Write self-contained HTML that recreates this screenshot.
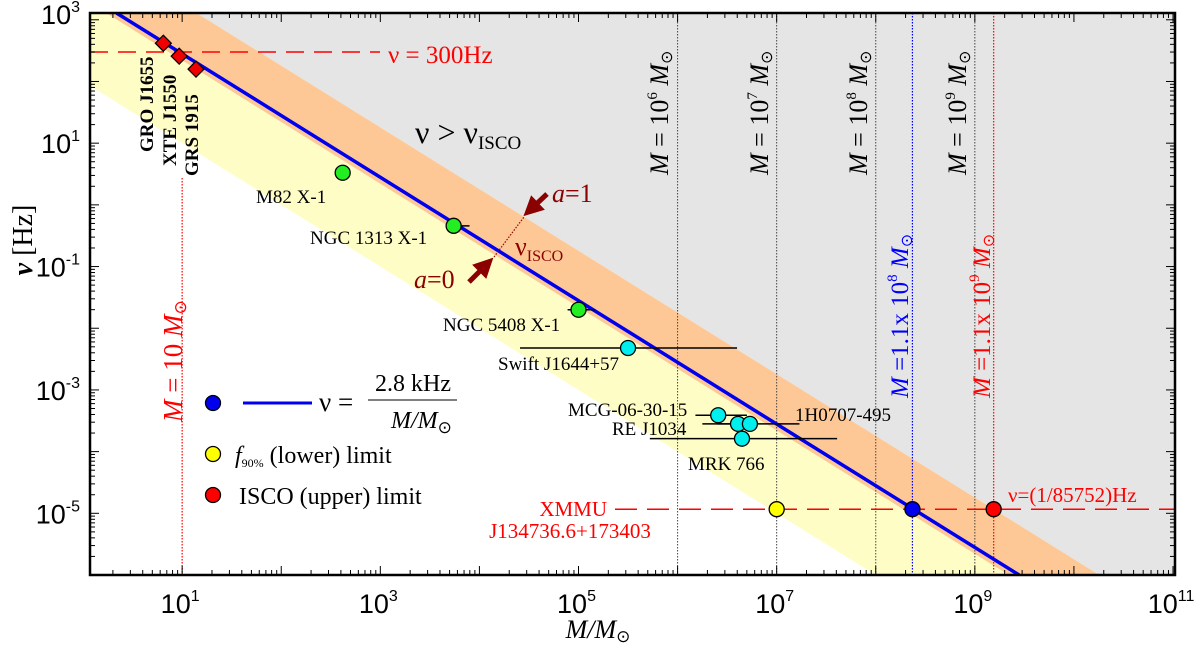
<!DOCTYPE html>
<html><head><meta charset="utf-8">
<style>
html,body{margin:0;padding:0;background:#fff;overflow:hidden;width:1200px;height:649px;}
svg{display:block;}
.ser{font-family:"Liberation Serif",serif;}
.san{font-family:"Liberation Sans",sans-serif;}
</style></head>
<body>
<svg id="chart" width="1200" height="649" viewBox="0 0 1200 649" xmlns="http://www.w3.org/2000/svg" style="overflow:hidden">
<defs>
<clipPath id="pc"><rect x="90" y="13" width="1085" height="562"/></clipPath>
<marker id="ah" markerWidth="4" markerHeight="4" refX="2.2" refY="2" orient="auto" markerUnits="strokeWidth"><path d="M0,0 L4,2 L0,4 Z" fill="#8b0000"/></marker>
</defs>
<g id="bands" clip-path="url(#pc)"></g>
<g id="vlines" clip-path="url(#pc)"></g>
<g id="marks" clip-path="url(#pc)"></g>
<g id="axes"></g>
<g id="labels"></g>
</svg>
<script>
// ---- data ----
const xTickExps = [1, 3, 5, 7, 9, 11];
const yTickExps = [3, 1, -1, -3, -5];
const lineConst = 2800;          // nu = 2.8 kHz / M
const yellowLowConst = 100;      // lower edge of yellow band
const orangeLowConst = 2200;     // a=0 ISCO
const orangeHighConst = 18000;   // a=1 ISCO
const diamondNames = ["GRO J1655", "XTE J1550", "GRS 1915"];
const diamondLogM = [0.81, 0.97, 1.14];
const diamondLogNu = [2.62, 2.41, 2.20];
const greenNames = ["M82 X-1", "NGC 1313 X-1", "NGC 5408 X-1"];
const greenLogM = [2.62, 3.74, 5.0];
const greenLogNu = [0.52, -0.34, -1.70];
const greenErrLo = [2.62, 3.68, 4.89];
const greenErrHi = [2.62, 3.90, 5.17];
const cyanNames = ["Swift J1644+57", "MCG-06-30-15", "RE J1034", "1H0707-495", "MRK 766"];
const cyanLogM = [5.50, 6.41, 6.61, 6.73, 6.65];
const cyanLogNu = [-2.32, -3.41, -3.55, -3.55, -3.79];
const cyanErrLo = [4.41, 6.18, 6.25, 6.40, 5.72];
const cyanErrHi = [6.60, 6.70, 6.81, 7.23, 7.61];
const xmmuLogNu = Math.log10(1/85752);
const xmmuLogM = [7.0, 8.37, 9.19];   // yellow, blue, red
const massLineExps = [6, 7, 8, 9];
const blueLineLogM = 8.37;
const redLineLogM = 9.19;
const tenSolarLogM = 1.0;
const nu300LogNu = Math.log10(300);

// ---- scales ----
const X0=90, X1=1175, Y0=13, Y1=575;
const lxMin=0.07, lxMax=11.02, lyMax=3.11, lyMin=-6.0;
function sx(l){return X0+(l-lxMin)/(lxMax-lxMin)*(X1-X0);}
function sy(l){return Y0+(lyMax-l)/(lyMax-lyMin)*(Y1-Y0);}
const NS="http://www.w3.org/2000/svg";
function mk(tag,attrs,parent,text){const e=document.createElementNS(NS,tag);for(const k in attrs)e.setAttribute(k,attrs[k]);if(text!==undefined)e.textContent=text;parent.appendChild(e);return e;}
const bands=document.getElementById('bands'),vl=document.getElementById('vlines'),marks=document.getElementById('marks'),axes=document.getElementById('axes');

// clip polygon (log space) to plot rectangle
function clipPoly(pts){
  const edges=[[p=>p[0]>=lxMin,(a,b)=>{const t=(lxMin-a[0])/(b[0]-a[0]);return [lxMin,a[1]+t*(b[1]-a[1])];}],
               [p=>p[0]<=lxMax,(a,b)=>{const t=(lxMax-a[0])/(b[0]-a[0]);return [lxMax,a[1]+t*(b[1]-a[1])];}],
               [p=>p[1]>=lyMin,(a,b)=>{const t=(lyMin-a[1])/(b[1]-a[1]);return [a[0]+t*(b[0]-a[0]),lyMin];}],
               [p=>p[1]<=lyMax,(a,b)=>{const t=(lyMax-a[1])/(b[1]-a[1]);return [a[0]+t*(b[0]-a[0]),lyMax];}]];
  let out=pts;
  edges.forEach(([ins,isect])=>{const inp=out;out=[];for(let i=0;i<inp.length;i++){const c=inp[i],p=inp[(i+inp.length-1)%inp.length];
    if(ins(c)){if(!ins(p))out.push(isect(p,c));out.push(c);}else if(ins(p))out.push(isect(p,c));}});
  return out;
}
function bandPts(c){const a=Math.log10(c);return [[lxMin-1,a-lxMin+1],[lxMax+1,a-lxMax-1]];}
function poly(cLo,cHi,fill,name){
  const lo=bandPts(cLo);let pts;
  if(cHi===null){pts=[lo[0],lo[1],[lxMax+1,lyMax+5],[lxMin-1,lyMax+5]];}
  else{const hi=bandPts(cHi);pts=[lo[0],lo[1],hi[1],hi[0]];}
  pts=clipPoly(pts);
  const p=mk('polygon',{points:pts.map(q=>sx(q[0]).toFixed(2)+','+sy(q[1]).toFixed(2)).join(' '),fill:fill},bands);
  
  
}
poly(orangeHighConst,null,'#e5e5e5','forbidden-region');
poly(yellowLowConst,orangeLowConst,'#fffdc6','f90-band');
poly(orangeLowConst,orangeHighConst,'#fdc896','isco-band');

massLineExps.forEach(e=>{const l=mk('line',{x1:sx(e),x2:sx(e),y1:Y0,y2:Y1,stroke:'#444','stroke-width':1,'stroke-dasharray':'1.5,1.5'},vl);

});
let b=mk('line',{x1:sx(blueLineLogM),x2:sx(blueLineLogM),y1:Y0,y2:Y1,stroke:'#0000ff','stroke-width':1.2,'stroke-dasharray':'1.5,1.5'},vl);


let r=mk('line',{x1:sx(redLineLogM),x2:sx(redLineLogM),y1:Y0,y2:Y1,stroke:'#ff0000','stroke-width':1.2,'stroke-dasharray':'1.5,1.5'},vl);


let t=mk('line',{x1:sx(tenSolarLogM),x2:sx(tenSolarLogM),y1:178,y2:Y1,stroke:'#ff0000','stroke-width':1.2,'stroke-dasharray':'1.5,1.5'},vl);


let h=mk('line',{x1:X0,x2:380,y1:sy(nu300LogNu),y2:sy(nu300LogNu),stroke:'#ff0000','stroke-width':1.5,'stroke-dasharray':'18,10'},vl);


let xd=mk('line',{x1:615,x2:X1,y1:sy(xmmuLogNu),y2:sy(xmmuLogNu),stroke:'#ff0000','stroke-width':1.5,'stroke-dasharray':'22,10'},vl);



const lc=Math.log10(lineConst);
const lStartX=Math.max(lxMin,lc-lyMax), lEndX=Math.min(lxMax,lc-lyMin);
let ml=mk('line',{x1:sx(lStartX),y1:sy(lc-lStartX),x2:sx(lEndX),y2:sy(lc-lEndX),stroke:'#0000ee','stroke-width':3.5},marks);



let isl=mk('line',{x1:494,y1:257,x2:524,y2:217,stroke:'#990000','stroke-width':1.2,'stroke-dasharray':'1.5,1.5'},marks);



function errbar(lm,ln,lo,hi){const y=sy(ln);const e=mk('line',{x1:sx(lo),x2:sx(hi),y1:y,y2:y,stroke:'#000','stroke-width':1.5},marks);

}
function circ(lm,ln,fill,name){const c=mk('circle',{cx:sx(lm),cy:sy(ln),r:7.5,fill:fill,stroke:'#000','stroke-width':1.3},marks);

}
greenLogM.forEach((m,i)=>errbar(m,greenLogNu[i],greenErrLo[i],greenErrHi[i]));
cyanLogM.forEach((m,i)=>errbar(m,cyanLogNu[i],cyanErrLo[i],cyanErrHi[i]));
greenLogM.forEach((m,i)=>circ(m,greenLogNu[i],'#22ee22','point-'+greenNames[i].toLowerCase().replace(/ /g,'-')));
cyanLogM.forEach((m,i)=>circ(m,cyanLogNu[i],'#00eeee','point-'+cyanNames[i].toLowerCase().replace(/[ +]/g,'-')));
circ(xmmuLogM[0],xmmuLogNu,'#ffff00','xmmu-lower-limit');
circ(xmmuLogM[1],xmmuLogNu,'#0000ee','xmmu-estimate');
circ(xmmuLogM[2],xmmuLogNu,'#ff0000','xmmu-upper-limit');
diamondLogM.forEach((m,i)=>{const x=sx(m),y=sy(diamondLogNu[i]),s=8;
const d=mk('polygon',{points:`${x},${y-s} ${x+s},${y} ${x},${y+s} ${x-s},${y}`,fill:'#ee0000',stroke:'#000','stroke-width':1.2},marks);

});

let fr=mk('rect',{x:X0,y:Y0,width:X1-X0,height:Y1-Y0,fill:'none',stroke:'#000','stroke-width':2.5},axes);


for(let d=0;d<=11;d++){for(let k=1;k<10;k++){const l=d+Math.log10(k);if(l<lxMin||l>lxMax)continue;const x=sx(l),len=k==1?9:5;
mk('line',{x1:x,x2:x,y1:Y1,y2:Y1-len,stroke:'#000','stroke-width':1},axes);mk('line',{x1:x,x2:x,y1:Y0,y2:Y0+len,stroke:'#000','stroke-width':1},axes);}}
for(let d=-6;d<=3;d++){for(let k=1;k<10;k++){const l=d+Math.log10(k);if(l<lyMin||l>lyMax)continue;const y=sy(l),len=k==1?9:5;
mk('line',{x1:X0,x2:X0+len,y1:y,y2:y,stroke:'#000','stroke-width':1},axes);mk('line',{x1:X1,x2:X1-len,y1:y,y2:y,stroke:'#000','stroke-width':1},axes);}}
xTickExps.forEach(e=>{const tx=mk('text',{x:sx(e)-2,y:613,'text-anchor':'middle','font-size':27,class:'san'},axes);


tx.innerHTML=`10<tspan font-size="16" dy="-12">${e}</tspan>`;});
yTickExps.forEach(e=>{const yy=e==3?24:sy(e)+10;const tx=mk('text',{x:80,y:yy,'text-anchor':'end','font-size':27,class:'san'},axes);


tx.innerHTML=`10<tspan font-size="16" dy="-12">${e}</tspan>`;});

const L=document.getElementById('labels');
L.innerHTML=`
<text x="598" y="638" text-anchor="middle" font-size="26" class="ser" font-style="italic">M/M<tspan font-style="normal" font-size="17" dy="4">⊙</tspan></text>
<text transform="translate(32,240) rotate(-90)" text-anchor="middle" font-size="28" class="ser"><tspan font-style="italic" font-weight="bold">ν</tspan> [Hz]</text>
<text x="388" y="63" font-size="25" class="ser" fill="#ff0000">ν = 300Hz</text>
<text x="415" y="143" font-size="32" class="ser">ν &gt; ν<tspan font-size="19" dy="6">ISCO</tspan></text>
<text transform="translate(153,152) rotate(-90)" font-size="19" font-weight="bold" class="ser">GRO J1655</text>
<text transform="translate(176,166) rotate(-90)" font-size="19" font-weight="bold" class="ser">XTE J1550</text>
<text transform="translate(198,176) rotate(-90)" font-size="19" font-weight="bold" class="ser">GRS 1915</text>
<text x="256" y="203" font-size="19" class="ser">M82 X-1</text>
<text x="310" y="244" font-size="19" class="ser">NGC 1313 X-1</text>
<text x="443" y="331" font-size="19" class="ser">NGC 5408 X-1</text>
<text x="498" y="370" font-size="19" class="ser">Swift J1644+57</text>
<text x="568" y="416" font-size="19" class="ser">MCG-06-30-15</text>
<text x="612" y="435" font-size="19" class="ser">RE J1034</text>
<text x="795" y="421" font-size="19" class="ser">1H0707-495</text>
<text x="688" y="470" font-size="19" class="ser">MRK 766</text>
<text x="607" y="516" text-anchor="end" font-size="21" class="ser" fill="#ff0000">XMMU</text>
<text x="570" y="538" text-anchor="middle" font-size="21" class="ser" fill="#ff0000">J134736.6+173403</text>
<text x="1008" y="502" font-size="21" class="ser" fill="#ff0000">ν=(1/85752)Hz</text>
<text x="552" y="202" font-size="26" class="ser" fill="#8b0000"><tspan font-style="italic">a</tspan>=1</text>
<text x="414" y="288" font-size="26" class="ser" fill="#8b0000"><tspan font-style="italic">a</tspan>=0</text>
<text x="515" y="255" font-size="26" class="ser" fill="#8b0000">ν<tspan font-size="16" dy="6">ISCO</tspan></text>
<line x1="547" y1="194" x2="530" y2="210" stroke="#8b0000" stroke-width="5" marker-end="url(#ah)"/>
<line x1="469" y1="282" x2="487" y2="264" stroke="#8b0000" stroke-width="5" marker-end="url(#ah)"/>
<text transform="translate(668,175) rotate(-90)" font-size="26" class="ser"><tspan font-style="italic">M</tspan> = 10<tspan font-size="15" dy="-11">6</tspan><tspan dy="11" font-style="italic"> M</tspan><tspan font-size="16" dy="4">⊙</tspan></text>
<text transform="translate(768,175) rotate(-90)" font-size="26" class="ser"><tspan font-style="italic">M</tspan> = 10<tspan font-size="15" dy="-11">7</tspan><tspan dy="11" font-style="italic"> M</tspan><tspan font-size="16" dy="4">⊙</tspan></text>
<text transform="translate(867,175) rotate(-90)" font-size="26" class="ser"><tspan font-style="italic">M</tspan> = 10<tspan font-size="15" dy="-11">8</tspan><tspan dy="11" font-style="italic"> M</tspan><tspan font-size="16" dy="4">⊙</tspan></text>
<text transform="translate(966,175) rotate(-90)" font-size="26" class="ser"><tspan font-style="italic">M</tspan> = 10<tspan font-size="15" dy="-11">9</tspan><tspan dy="11" font-style="italic"> M</tspan><tspan font-size="16" dy="4">⊙</tspan></text>
<text transform="translate(908,398) rotate(-90)" font-size="25" class="ser" fill="#0000ff"><tspan font-style="italic">M</tspan> =1.1x 10<tspan font-size="15" dy="-11">8</tspan><tspan dy="11" font-style="italic"> M</tspan><tspan font-size="16" dy="4">⊙</tspan></text>
<text transform="translate(990,398) rotate(-90)" font-size="25" class="ser" fill="#ff0000"><tspan font-style="italic">M</tspan> =1.1x 10<tspan font-size="15" dy="-11">9</tspan><tspan dy="11" font-style="italic"> M</tspan><tspan font-size="16" dy="4">⊙</tspan></text>
<text transform="translate(182,422) rotate(-90)" font-size="27" class="ser" fill="#ff0000"><tspan font-style="italic">M</tspan> = 10<tspan font-style="italic"> M</tspan><tspan font-size="17" dy="4">⊙</tspan></text>
<g>
<circle cx="213" cy="403" r="7.5" fill="#0000ee" stroke="#000" stroke-width="1.3"/>
<line x1="243" y1="403" x2="312" y2="403" stroke="#0000ee" stroke-width="3"/>
<text x="319" y="411" font-size="27" class="ser">ν =</text>
<text x="413" y="391" text-anchor="middle" font-size="24" class="ser">2.8 kHz</text>
<line x1="368" y1="400" x2="457" y2="400" stroke="#000" stroke-width="1"/>
<text x="391" y="428" font-size="24" class="ser" font-style="italic">M/M<tspan font-style="normal" font-size="17" dy="5">⊙</tspan></text>
<circle cx="213" cy="454" r="7.5" fill="#ffff00" stroke="#000" stroke-width="1.3"/>
<text x="235" y="463" font-size="24" class="ser"><tspan font-style="italic">f</tspan><tspan font-size="12" dy="4">90%</tspan><tspan dy="-4"> (lower) limit</tspan></text>
<circle cx="213" cy="495" r="7.5" fill="#ff0000" stroke="#000" stroke-width="1.3"/>
<text x="239" y="504" font-size="24" class="ser">ISCO (upper) limit</text>
</g>`;
</script>
</body></html>
